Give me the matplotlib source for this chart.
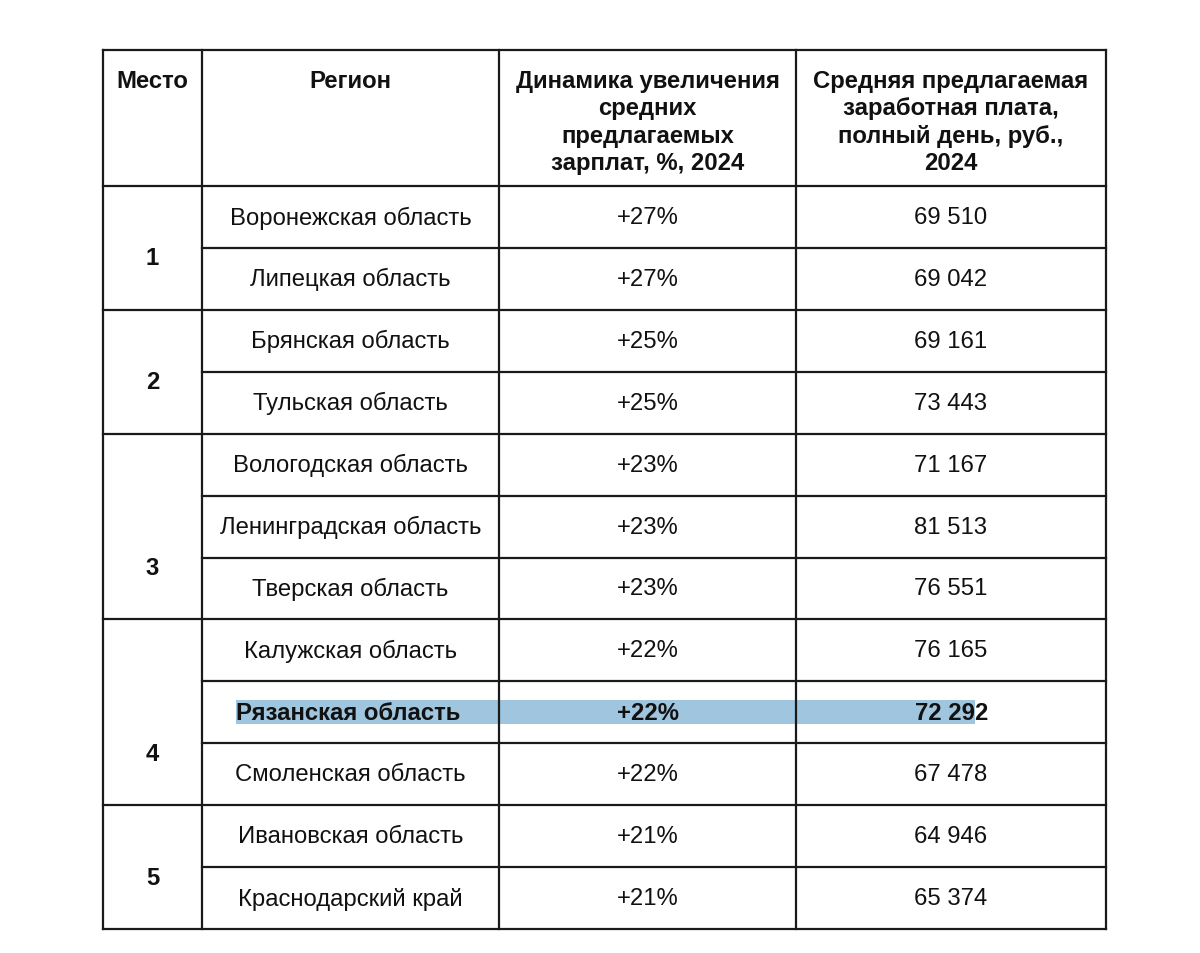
import matplotlib.pyplot as plt

plt.rcParams['font.family'] = ['Liberation Sans', 'DejaVu Sans']

# Данные таблицы
headers = ["Место", "Регион", "Динамика увеличения\nсредних\nпредлагаемых\nзарплат, %, 2024",
           "Средняя предлагаемая\nзаработная плата,\nполный день, руб.,\n2024"]
ranks = [1, 1, 2, 2, 3, 3, 3, 4, 4, 4, 5, 5]
regions = ["Воронежская область", "Липецкая область", "Брянская область", "Тульская область",
           "Вологодская область", "Ленинградская область", "Тверская область",
           "Калужская область", "Рязанская область", "Смоленская область",
           "Ивановская область", "Краснодарский край"]
growth = [27, 27, 25, 25, 23, 23, 23, 22, 22, 22, 21, 21]
salary = [69510, 69042, 69161, 73443, 71167, 81513, 76551, 76165, 72292, 67478, 64946, 65374]
highlight = "Рязанская область"

# Геометрия (в пикселях)
W, H = 1200, 954
col_x = [103, 202, 499, 796, 1106]
top, head_bottom, bottom = 51, 187, 930
n = len(regions)
row_h = (bottom - head_bottom) / n
row_y = [head_bottom + i * row_h for i in range(n + 1)]

fig = plt.figure(figsize=(W / 100, H / 100), dpi=100)
ax = fig.add_axes([0, 0, 1, 1])
ax.set_xlim(0, W)
ax.set_ylim(H, 0)
ax.axis('off')

lc = '#1a1a1a'
lw = 1.6
fs = 17.2
tc = '#111111'

# Внешняя рамка и вертикальные линии
for x in col_x:
    ax.plot([x, x], [top, bottom], color=lc, lw=lw, solid_capstyle='projecting')
ax.plot([col_x[0], col_x[-1]], [top, top], color=lc, lw=lw)
ax.plot([col_x[0], col_x[-1]], [bottom, bottom], color=lc, lw=lw)
ax.plot([col_x[0], col_x[-1]], [head_bottom, head_bottom], color=lc, lw=lw)

# Горизонтальные линии строк
for i in range(1, n):
    x0 = col_x[0] if ranks[i] != ranks[i - 1] else col_x[1]
    ax.plot([x0, col_x[-1]], [row_y[i], row_y[i]], color=lc, lw=lw)

# Заголовки
for j, h in enumerate(headers):
    cx = (col_x[j] + col_x[j + 1]) / 2
    ax.text(cx, 70, h, ha='center', va='top', fontsize=fs, fontweight='bold',
            linespacing=1.245, color=tc)

# Места (объединённые ячейки)
groups = sorted(set(ranks))
for r in groups:
    idx = [i for i, v in enumerate(ranks) if v == r]
    k = idx[0] + (len(idx) + 1) // 2
    ax.text((col_x[0] + col_x[1]) / 2, row_y[k] + 10, str(r), ha='center', va='center',
            fontsize=fs, fontweight='bold', color=tc)

# Строки
for i in range(n):
    cy = (row_y[i] + row_y[i + 1]) / 2
    sal = f"{salary[i]:,}".replace(",", " ")
    if regions[i] == highlight:
        ax.fill_between([236, 975], cy - 12, cy + 12, color='#9fc5df', lw=0, zorder=0)
        ax.text(236, cy, regions[i], ha='left', va='center', fontsize=fs,
                fontweight='bold', color=tc)
        ax.text((col_x[2] + col_x[3]) / 2, cy, f"+{growth[i]}%", ha='center', va='center',
                fontsize=fs, fontweight='bold', color=tc)
        ax.text(988, cy, sal, ha='right', va='center', fontsize=fs,
                fontweight='bold', color=tc)
    else:
        ax.text((col_x[1] + col_x[2]) / 2, cy, regions[i], ha='center', va='center',
                fontsize=fs, color=tc)
        ax.text((col_x[2] + col_x[3]) / 2, cy, f"+{growth[i]}%", ha='center', va='center',
                fontsize=fs, color=tc)
        ax.text((col_x[3] + col_x[4]) / 2, cy, sal, ha='center', va='center',
                fontsize=fs, color=tc)

fig.savefig('out.png', dpi=100)
